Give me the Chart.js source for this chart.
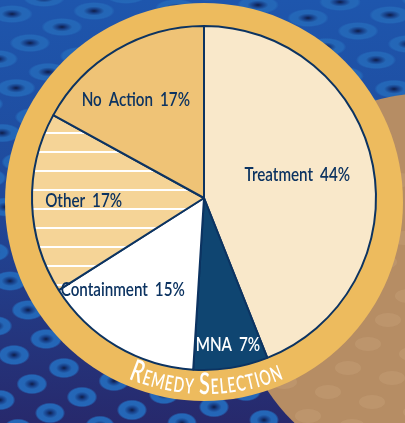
<!DOCTYPE html>
<html>
<head>
<meta charset="utf-8">
<script src="https://cdn.jsdelivr.net/npm/chart.js@4.4.0/dist/chart.umd.min.js"></script>
<style>
html, body { margin: 0; padding: 0; overflow: hidden; background: #1f4a9a; }
canvas { display: block; }
</style>
</head>
<body>
<canvas id="remedy-chart" width="405" height="423"></canvas>
<script>
// data
const categories = ['Treatment', 'MNA', 'Containment', 'Other', 'No Action'];
const percents = [44, 7, 15, 17, 17];
const titleText = 'Remedy Selection';

const navy = '#0c3361';
const labelFont = 'Lato, "Open Sans", sans-serif';
const squeeze = 0.8; // condensed look

// label placement: fraction of radius, angle nudge (deg)
const labelPlace = [[0.56, -3.7], [0.86, -0.3], [0.71, 11.1], [0.70, 0.8], [0.70, -3.9]];
const labelColors = [navy, '#ffffff', navy, navy, navy];

// striped fill for "Other"
function stripePattern() {
    const c = document.createElement('canvas');
    c.width = 8;
    c.height = 19;
    const g = c.getContext('2d');
    g.fillStyle = '#f5d497';
    g.fillRect(0, 0, 8, 19);
    g.fillStyle = '#ffffff';
    g.fillRect(0, 0, 8, 2);
    const p = document.getElementById('remedy-chart').getContext('2d').createPattern(c, 'repeat');
    p.setTransform(new DOMMatrix().translate(0, 132));
    return p;
}

const sliceColors = ['#f9e8ca', '#0f4571', '#ffffff', stripePattern(), '#efc376'];

// background, tan disc and gold ring
const backdrop = {
    id: 'backdrop',
    beforeDraw(chart) {
        const ctx = chart.ctx;
        const w = chart.width, h = chart.height;
        ctx.save();
        const bg = ctx.createLinearGradient(0, 0, 0, h);
        bg.addColorStop(0, '#1e56ad');
        bg.addColorStop(0.45, '#1f4a9c');
        bg.addColorStop(1, '#27296c');
        ctx.fillStyle = bg;
        ctx.fillRect(0, 0, w, h);

        // dot lattice
        for (let i = -20; i <= 20; i++) {
            for (let j = -5; j <= 30; j++) {
                const x = 12 + i * 50 - j * 32;
                const y = 14 + i * 13 + j * 16;
                if (x < -30 || x > w + 30 || y < -20 || y > h + 20) continue;
                const rx = 21 - (y / h) * 6;
                const ry = 9 + (y / h) * 1.5;
                ctx.save();
                ctx.translate(x, y);
                ctx.scale(1, ry / rx);
                const g = ctx.createRadialGradient(0, 0, 0, 0, 0, rx);
                g.addColorStop(0, '#0e1d48');
                g.addColorStop(0.22, '#173d84');
                g.addColorStop(0.5, '#2466b6');
                g.addColorStop(0.85, '#2467b8');
                g.addColorStop(1, 'rgba(36,103,184,0)');
                ctx.fillStyle = g;
                ctx.beginPath();
                ctx.arc(0, 0, rx, 0, Math.PI * 2);
                ctx.fill();
                ctx.restore();
            }
        }

        // tan disc
        ctx.fillStyle = '#b68d64';
        ctx.beginPath();
        ctx.arc(428, 285, 192, 0, Math.PI * 2);
        ctx.fill();
        ctx.fillStyle = 'rgba(205,170,130,0.3)';
        for (let i = -6; i <= 6; i++) {
            for (let j = -6; j <= 6; j++) {
                const x = 300 + i * 44 - j * 20;
                const y = 300 + i * 10 + j * 24;
                if (Math.hypot(x - 428, y - 285) > 180) continue;
                ctx.beginPath();
                ctx.ellipse(x, y, 13, 7, 0, 0, Math.PI * 2);
                ctx.fill();
            }
        }

        // gold ring
        ctx.fillStyle = '#edbb5e';
        ctx.beginPath();
        ctx.arc(204, 202, 199, 0, Math.PI * 2);
        ctx.fill();
        ctx.restore();
    }
};

// slice labels + curved title
const sliceLabels = {
    id: 'sliceLabels',
    afterDatasetsDraw(chart) {
        const ctx = chart.ctx;
        const meta = chart.getDatasetMeta(0);
        ctx.save();
        ctx.font = '600 19px ' + labelFont;
        ctx.textAlign = 'center';
        ctx.textBaseline = 'alphabetic';
        if ('wordSpacing' in ctx) ctx.wordSpacing = '4px';
        meta.data.forEach((arc, i) => {
            const p = arc.getProps(['x', 'y', 'startAngle', 'endAngle', 'outerRadius'], true);
            const mid = (p.startAngle + p.endAngle) / 2 + labelPlace[i][1] * Math.PI / 180;
            const r = p.outerRadius * labelPlace[i][0];
            const x = p.x + Math.cos(mid) * r;
            const y = p.y + Math.sin(mid) * r;
            ctx.save();
            ctx.translate(x, y + 7);
            ctx.scale(squeeze, 1);
            ctx.fillStyle = labelColors[i];
            ctx.fillText(categories[i] + ' ' + percents[i] + '%', 0, 0);
            ctx.restore();
        });
        if ('wordSpacing' in ctx) ctx.wordSpacing = '0px';

        // curved small caps title
        const cx = 206, cy = 190, rad = 204;
        const titleSqueeze = 0.66;
        const glyphs = [];
        titleText.split(' ').forEach((word, wi) => {
            if (wi > 0) glyphs.push({ ch: ' ', size: 21 });
            word.split('').forEach((ch, ci) => {
                glyphs.push({ ch: ch.toUpperCase(), size: ci === 0 ? 30 : 21 });
            });
        });
        const spacing = 1.2;
        let total = 0;
        glyphs.forEach(g => {
            ctx.font = '600 ' + g.size + 'px ' + labelFont;
            g.w = ctx.measureText(g.ch).width * titleSqueeze + spacing;
            total += g.w;
        });
        let ang = Math.PI / 2 + total / rad / 2;
        ctx.fillStyle = '#ffffff';
        glyphs.forEach(g => {
            const a = ang - g.w / 2 / rad;
            ctx.save();
            ctx.translate(cx + Math.cos(a) * rad, cy + Math.sin(a) * rad);
            ctx.rotate(a - Math.PI / 2);
            ctx.scale(titleSqueeze, 1);
            ctx.font = '600 ' + g.size + 'px ' + labelFont;
            ctx.fillText(g.ch, 0, 0);
            ctx.restore();
            ang -= g.w / rad;
        });
        ctx.restore();
    }
};

new Chart(document.getElementById('remedy-chart'), {
    type: 'pie',
    data: {
        labels: categories,
        datasets: [{
            data: percents,
            backgroundColor: sliceColors,
            borderColor: navy,
            borderWidth: 2
        }]
    },
    options: {
        responsive: false,
        animation: false,
        devicePixelRatio: 1,
        events: [],
        layout: { padding: { left: 31, right: 28, top: 25, bottom: 52 } },
        plugins: {
            legend: { display: false },
            tooltip: { enabled: false }
        }
    },
    plugins: [backdrop, sliceLabels]
});
</script>
</body>
</html>
